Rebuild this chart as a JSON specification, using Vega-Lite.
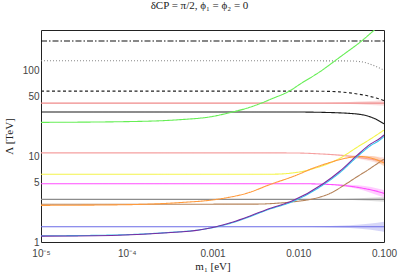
{
  "$schema": "https://vega.github.io/schema/vega-lite/v6.json",
  "width": 343,
  "height": 212,
  "autosize": {"type": "none"},
  "padding": {"left": 41, "top": 30, "right": 20, "bottom": 36},
  "background": "white",
  "config": {
    "view": {"stroke": null},
    "axis": {
      "grid": false,
      "domainColor": "#222",
      "tickColor": "#222",
      "tickSize": 0,
      "labelFont": "Liberation Sans",
      "labelFontSize": 10,
      "labelColor": "#444",
      "titleFont": "Liberation Serif",
      "titleFontSize": 11,
      "titleFontWeight": "normal",
      "titleColor": "#222"
    }
  },
  "title": {
    "text": "δCP = π/2, ϕ₁ = ϕ₂ = 0",
    "font": "Liberation Serif",
    "fontSize": 11,
    "fontWeight": "normal",
    "color": "#222",
    "offset": 7,
    "dx": -13
  },
  "datasets": {
    "lines": [
      {"s": "dd", "m": 0.00001, "v": 223}, {"s": "dd", "m": 0.1, "v": 223},
      {"s": "dot", "m": 0.00001, "v": 131}, {"s": "dot", "m": 0.01, "v": 131}, {"s": "dot", "m": 0.04, "v": 130.5}, {"s": "dot", "m": 0.05, "v": 129}, {"s": "dot", "m": 0.06, "v": 125}, {"s": "dot", "m": 0.07, "v": 119}, {"s": "dot", "m": 0.08, "v": 113}, {"s": "dot", "m": 0.09, "v": 107}, {"s": "dot", "m": 0.1, "v": 102},
      {"s": "dash", "m": 0.00001, "v": 58}, {"s": "dash", "m": 0.01, "v": 58}, {"s": "dash", "m": 0.02, "v": 57.7}, {"s": "dash", "m": 0.03, "v": 56.8}, {"s": "dash", "m": 0.04, "v": 55.3}, {"s": "dash", "m": 0.05, "v": 53.5}, {"s": "dash", "m": 0.06, "v": 51.8}, {"s": "dash", "m": 0.07, "v": 50}, {"s": "dash", "m": 0.08, "v": 48.3}, {"s": "dash", "m": 0.09, "v": 46.7}, {"s": "dash", "m": 0.1, "v": 45},
      {"s": "red", "m": 0.00001, "v": 42}, {"s": "red", "m": 0.1, "v": 42},
      {"s": "blk", "m": 0.00001, "v": 33}, {"s": "blk", "m": 0.01, "v": 33}, {"s": "blk", "m": 0.02, "v": 32.7}, {"s": "blk", "m": 0.03, "v": 32.3}, {"s": "blk", "m": 0.04, "v": 31.8}, {"s": "blk", "m": 0.05, "v": 31.2}, {"s": "blk", "m": 0.06, "v": 30.2}, {"s": "blk", "m": 0.07, "v": 28.9}, {"s": "blk", "m": 0.08, "v": 27.3}, {"s": "blk", "m": 0.09, "v": 25.6}, {"s": "blk", "m": 0.1, "v": 24},
      {"s": "grn", "m": 0.00001, "v": 25}, {"s": "grn", "m": 0.0001, "v": 25.5}, {"s": "grn", "m": 0.0004, "v": 26.8}, {"s": "grn", "m": 0.001, "v": 29.3}, {"s": "grn", "m": 0.0016, "v": 32.5}, {"s": "grn", "m": 0.0025, "v": 36.5}, {"s": "grn", "m": 0.0036, "v": 41.5}, {"s": "grn", "m": 0.005, "v": 47.5}, {"s": "grn", "m": 0.008, "v": 58.5}, {"s": "grn", "m": 0.0105, "v": 70}, {"s": "grn", "m": 0.018, "v": 98}, {"s": "grn", "m": 0.031, "v": 146}, {"s": "grn", "m": 0.055, "v": 224}, {"s": "grn", "m": 0.0725, "v": 284}, {"s": "grn", "m": 0.1, "v": 380},
      {"s": "lred", "m": 0.00001, "v": 11}, {"s": "lred", "m": 0.005, "v": 11}, {"s": "lred", "m": 0.01, "v": 10.95}, {"s": "lred", "m": 0.018, "v": 10.7}, {"s": "lred", "m": 0.03, "v": 10.35}, {"s": "lred", "m": 0.045, "v": 9.9}, {"s": "lred", "m": 0.06, "v": 9.5}, {"s": "lred", "m": 0.08, "v": 9.1}, {"s": "lred", "m": 0.1, "v": 8.8},
      {"s": "yel", "m": 0.00001, "v": 6.2}, {"s": "yel", "m": 0.005, "v": 6.2}, {"s": "yel", "m": 0.0105, "v": 6.6}, {"s": "yel", "m": 0.015, "v": 7.2}, {"s": "yel", "m": 0.018, "v": 7.6}, {"s": "yel", "m": 0.0235, "v": 8.4}, {"s": "yel", "m": 0.031, "v": 9.6}, {"s": "yel", "m": 0.037, "v": 10.7}, {"s": "yel", "m": 0.048, "v": 12.7}, {"s": "yel", "m": 0.069, "v": 15.9}, {"s": "yel", "m": 0.1, "v": 20.3},
      {"s": "mag", "m": 0.00001, "v": 4.8}, {"s": "mag", "m": 0.01, "v": 4.8}, {"s": "mag", "m": 0.0235, "v": 4.7}, {"s": "mag", "m": 0.035, "v": 4.55}, {"s": "mag", "m": 0.046, "v": 4.4}, {"s": "mag", "m": 0.06, "v": 4.2}, {"s": "mag", "m": 0.08, "v": 3.95}, {"s": "mag", "m": 0.1, "v": 3.7},
      {"s": "gry", "m": 0.00001, "v": 3.15}, {"s": "gry", "m": 0.1, "v": 3.15},
      {"s": "brn", "m": 0.00001, "v": 2.76}, {"s": "brn", "m": 0.003, "v": 2.77}, {"s": "brn", "m": 0.006, "v": 2.85}, {"s": "brn", "m": 0.0087, "v": 2.95}, {"s": "brn", "m": 0.015, "v": 3.2}, {"s": "brn", "m": 0.0235, "v": 3.7}, {"s": "brn", "m": 0.037, "v": 4.85}, {"s": "brn", "m": 0.05, "v": 5.9}, {"s": "brn", "m": 0.06, "v": 6.6}, {"s": "brn", "m": 0.08, "v": 8.0}, {"s": "brn", "m": 0.1, "v": 9.3},
      {"s": "org", "m": 0.00001, "v": 2.68}, {"s": "org", "m": 0.00008, "v": 2.72}, {"s": "org", "m": 0.0004, "v": 2.88}, {"s": "org", "m": 0.0012, "v": 3.18}, {"s": "org", "m": 0.0027, "v": 3.8}, {"s": "org", "m": 0.0047, "v": 4.7}, {"s": "org", "m": 0.009, "v": 5.9}, {"s": "org", "m": 0.015, "v": 7.3}, {"s": "org", "m": 0.0235, "v": 8.5}, {"s": "org", "m": 0.037, "v": 9.6}, {"s": "org", "m": 0.05, "v": 10}, {"s": "org", "m": 0.07, "v": 9.6}, {"s": "org", "m": 0.1, "v": 8.4},
      {"s": "blu", "m": 0.00001, "v": 1.51}, {"s": "blu", "m": 0.1, "v": 1.51},
      {"s": "cyn", "m": 0.00001, "v": 1.18}, {"s": "cyn", "m": 0.00008, "v": 1.21}, {"s": "cyn", "m": 0.0003, "v": 1.29}, {"s": "cyn", "m": 0.0007, "v": 1.385}, {"s": "cyn", "m": 0.0011, "v": 1.5}, {"s": "cyn", "m": 0.0017, "v": 1.68}, {"s": "cyn", "m": 0.0027, "v": 1.97}, {"s": "cyn", "m": 0.0043, "v": 2.36}, {"s": "cyn", "m": 0.0087, "v": 2.98}, {"s": "cyn", "m": 0.0195, "v": 4.65}, {"s": "cyn", "m": 0.031, "v": 6.55}, {"s": "cyn", "m": 0.048, "v": 9.8}, {"s": "cyn", "m": 0.07, "v": 13.4}, {"s": "cyn", "m": 0.09, "v": 15.6}, {"s": "cyn", "m": 0.1, "v": 17.1},
      {"s": "pur", "m": 0.00001, "v": 1.17}, {"s": "pur", "m": 0.00008, "v": 1.2}, {"s": "pur", "m": 0.0003, "v": 1.28}, {"s": "pur", "m": 0.0007, "v": 1.38}, {"s": "pur", "m": 0.0011, "v": 1.51}, {"s": "pur", "m": 0.0017, "v": 1.7}, {"s": "pur", "m": 0.0027, "v": 2.0}, {"s": "pur", "m": 0.0043, "v": 2.4}, {"s": "pur", "m": 0.0087, "v": 3.05}, {"s": "pur", "m": 0.0195, "v": 4.8}, {"s": "pur", "m": 0.031, "v": 6.8}, {"s": "pur", "m": 0.048, "v": 10.2}, {"s": "pur", "m": 0.07, "v": 14}, {"s": "pur", "m": 0.09, "v": 16.3}, {"s": "pur", "m": 0.1, "v": 17.8}
    ],
    "bands": [
      {"s": "red", "m": 0.02, "lo": 42, "hi": 42}, {"s": "red", "m": 0.04, "lo": 41, "hi": 43.2}, {"s": "red", "m": 0.06, "lo": 40.2, "hi": 44}, {"s": "red", "m": 0.08, "lo": 39.5, "hi": 44.8}, {"s": "red", "m": 0.1, "lo": 39, "hi": 45.5},
      {"s": "lred", "m": 0.02, "lo": 10.65, "hi": 10.65}, {"s": "lred", "m": 0.05, "lo": 9.4, "hi": 10.3}, {"s": "lred", "m": 0.1, "lo": 8.0, "hi": 9.8},
      {"s": "org", "m": 0.04, "lo": 9.6, "hi": 9.7}, {"s": "org", "m": 0.07, "lo": 9.1, "hi": 10.1}, {"s": "org", "m": 0.1, "lo": 7.7, "hi": 9.2},
      {"s": "mag", "m": 0.02, "lo": 4.75, "hi": 4.75}, {"s": "mag", "m": 0.05, "lo": 4.15, "hi": 4.6}, {"s": "mag", "m": 0.1, "lo": 3.3, "hi": 4.05},
      {"s": "gry", "m": 0.03, "lo": 3.15, "hi": 3.15}, {"s": "gry", "m": 0.1, "lo": 2.95, "hi": 3.35},
      {"s": "blu", "m": 0.01, "lo": 1.51, "hi": 1.51}, {"s": "blu", "m": 0.04, "lo": 1.46, "hi": 1.57}, {"s": "blu", "m": 0.07, "lo": 1.39, "hi": 1.64}, {"s": "blu", "m": 0.1, "lo": 1.32, "hi": 1.73}
    ]
  },
  "layer": [
    {
      "layer": [
        {
          "data": {"name": "bands"},
          "mark": {"type": "area", "opacity": 0.28, "clip": true, "interpolate": "monotone"},
          "encoding": {
            "x": {"field": "m", "type": "quantitative", "scale": {"type": "log", "domain": [0.00001, 0.1], "nice": false},
              "axis": {
                "orient": "bottom",
                "values": [0.00001,0.00002,0.00003,0.00004,0.00005,0.00006,0.00007,0.00008,0.00009,0.0001,0.0002,0.0003,0.0004,0.0005,0.0006,0.0007,0.0008,0.0009,0.001,0.002,0.003,0.004,0.005,0.006,0.007,0.008,0.009,0.01,0.02,0.03,0.04,0.05,0.06,0.07,0.08,0.09,0.1],
                "labelExpr": "datum.value == 0.00001 ? '10⁻⁵' : datum.value == 0.0001 ? '10⁻⁴' : datum.value == 0.001 ? '0.001' : datum.value == 0.01 ? '0.010' : datum.value == 0.1 ? '0.100' : ''",
                "labelFont": "Liberation Sans",
                "labelFlush": false,
                "labelOverlap": false,
                "labelPadding": 6,
                "title": "m₁ [eV]",
                "titlePadding": 2,
                "encode": {"ticks": {"update": {"y2": {"signal": "indexof([0.00001,0.0001,0.001,0.01,0.1], datum.value) >= 0 ? -4 : -2"}}}}
              }
            },
            "y": {"field": "lo", "type": "quantitative", "stack": null, "scale": {"type": "log", "domain": [1, 300], "nice": false},
              "axis": {
                "orient": "left",
                "values": [1,2,3,4,5,6,7,8,9,10,20,30,40,50,60,70,80,90,100,200,300],
                "labelExpr": "indexof([1,5,10,50,100], datum.value) >= 0 ? format(datum.value, 'd') : ''",
                "labelFont": "Liberation Sans",
                "labelOverlap": false,
                "labelPadding": 2,
                "title": "Λ [TeV]",
                "titlePadding": 8,
                "encode": {"ticks": {"update": {"x2": {"signal": "indexof([1,5,10,50,100], datum.value) >= 0 ? 4 : 2"}}}}
              }
            },
            "y2": {"field": "hi"},
            "color": {"field": "s", "type": "nominal", "legend": null,
              "scale": {"domain": ["dd","dot","dash","red","blk","grn","lred","yel","mag","gry","brn","org","blu","cyn","pur"],
                        "range": ["#111111","#888888","#222222","#F08A8A","#1a1a1a","#66EE55","#F5A0A0","#F4F44C","#FF4DFF","#8C8C8C","#B5835A","#FF9A3C","#6B6BE6","#33C8F0","#7B2BA0"]}}
          }
        },
        {
          "data": {"name": "lines"},
          "transform": [{"filter": "datum.s != 'pur'"}],
          "mark": {"type": "line", "clip": true, "interpolate": "monotone"},
          "encoding": {
            "x": {"field": "m", "type": "quantitative", "scale": {"type": "log", "domain": [0.00001, 0.1], "nice": false}},
            "y": {"field": "v", "type": "quantitative", "scale": {"type": "log", "domain": [1, 300], "nice": false}},
            "color": {"field": "s", "type": "nominal", "legend": null},
            "strokeDash": {"field": "s", "type": "nominal", "legend": null,
              "scale": {"domain": ["dd","dot","dash","red","blk","grn","lred","yel","mag","gry","brn","org","blu","cyn","pur"],
                        "range": [[6,2,1.5,2],[1,2],[3,2.5],[1,0],[1,0],[1,0],[1,0],[1,0],[1,0],[1,0],[1,0],[1,0],[1,0],[1,0],[1,0]]}},
            "strokeWidth": {"field": "s", "type": "nominal", "legend": null,
              "scale": {"domain": ["dd","dot","dash","red","blk","grn","lred","yel","mag","gry","brn","org","blu","cyn","pur"],
                        "range": [1.1,1.1,1.1,2.2,1.2,1.1,1.5,1.5,1.5,1.1,1.1,1.1,2.5,1,1.1]}}
          }
        },
        {
          "data": {"name": "lines"},
          "transform": [{"filter": "datum.s == 'pur'"}],
          "mark": {"type": "line", "clip": true, "interpolate": "monotone", "strokeWidth": 1.1},
          "encoding": {
            "x": {"field": "m", "type": "quantitative", "scale": {"type": "log", "domain": [0.00001, 0.1], "nice": false}},
            "y": {"field": "v", "type": "quantitative", "scale": {"type": "log", "domain": [1, 300], "nice": false}},
            "color": {"field": "s", "type": "nominal", "legend": null}
          }
        }
      ]
    },
    {
      "data": {"name": "lines"},
      "mark": {"type": "point", "opacity": 0},
      "encoding": {
        "x": {"field": "m", "type": "quantitative", "scale": {"type": "log", "domain": [0.00001, 0.1], "nice": false},
          "axis": {
            "orient": "top", "labels": false, "title": null,
            "values": [0.00001,0.00002,0.00003,0.00004,0.00005,0.00006,0.00007,0.00008,0.00009,0.0001,0.0002,0.0003,0.0004,0.0005,0.0006,0.0007,0.0008,0.0009,0.001,0.002,0.003,0.004,0.005,0.006,0.007,0.008,0.009,0.01,0.02,0.03,0.04,0.05,0.06,0.07,0.08,0.09,0.1],
            "encode": {"ticks": {"update": {"y2": {"signal": "indexof([0.00001,0.0001,0.001,0.01,0.1], datum.value) >= 0 ? 4 : 2"}}}}
          }
        },
        "y": {"field": "v", "type": "quantitative", "scale": {"type": "log", "domain": [1, 300], "nice": false},
          "axis": {
            "orient": "right", "labels": false, "title": null,
            "values": [1,2,3,4,5,6,7,8,9,10,20,30,40,50,60,70,80,90,100,200,300],
            "encode": {"ticks": {"update": {"x2": {"signal": "indexof([1,5,10,50,100], datum.value) >= 0 ? -4 : -2"}}}}
          }
        }
      }
    }
  ],
  "resolve": {"axis": {"x": "independent", "y": "independent"}}
}
